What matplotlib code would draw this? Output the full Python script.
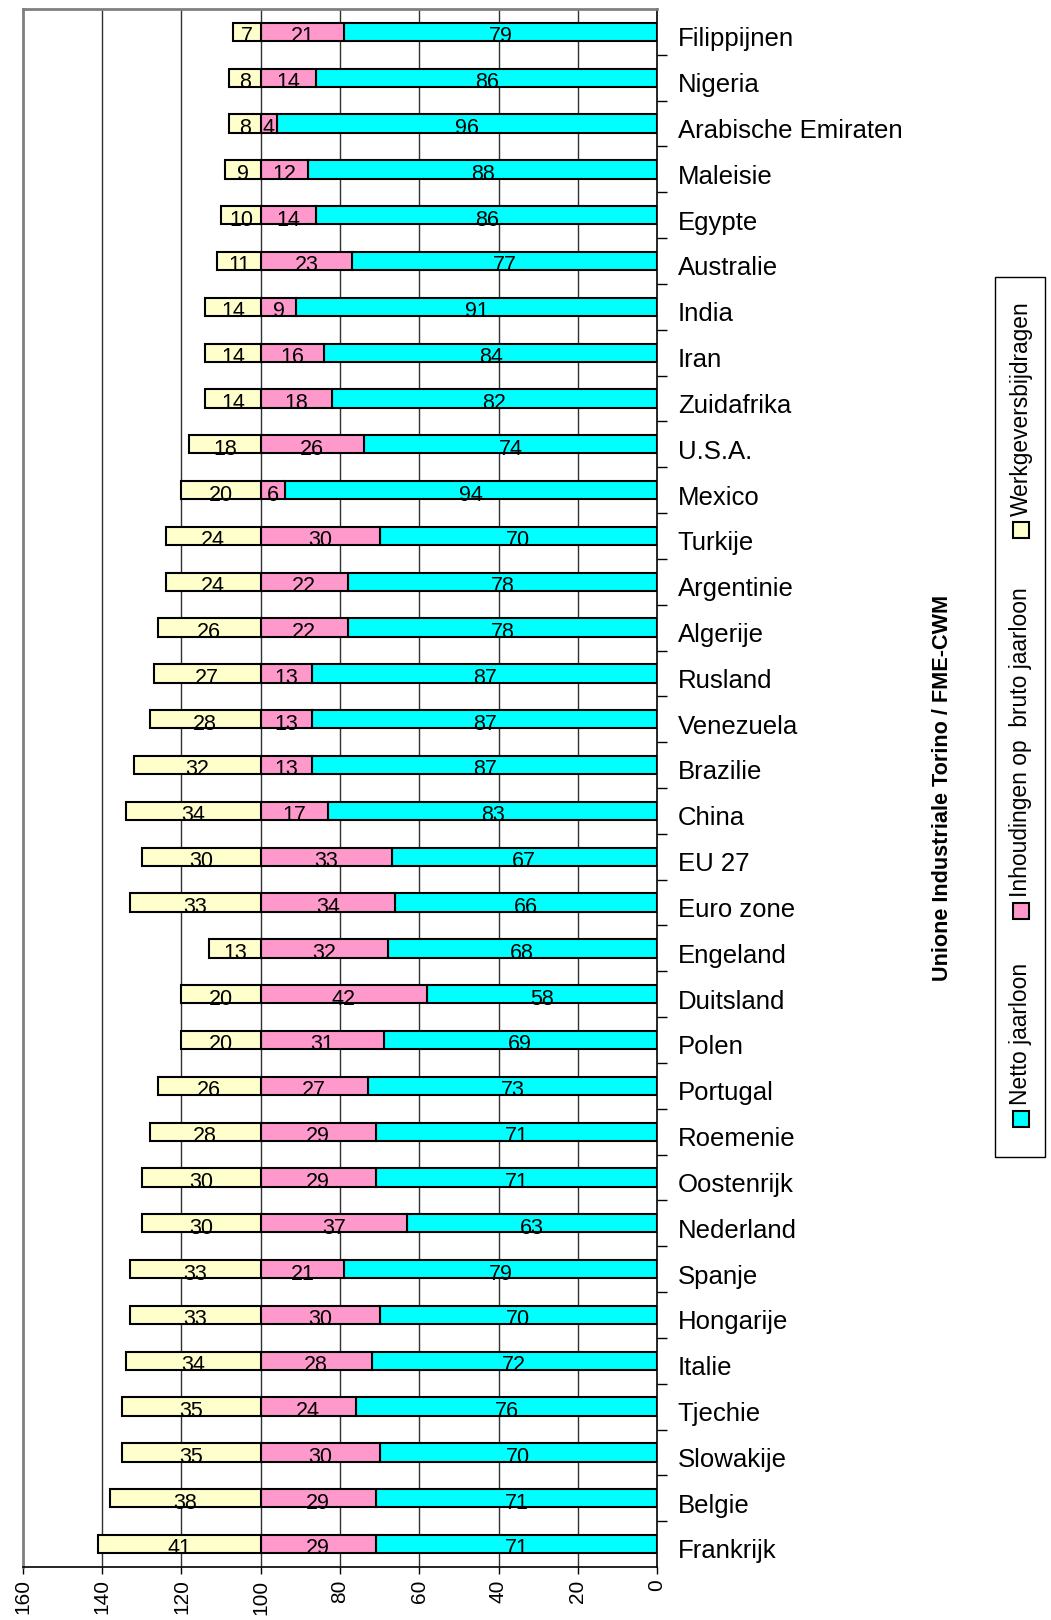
import matplotlib
matplotlib.use("Agg")
from matplotlib import pyplot as plt
from matplotlib import font_manager
from matplotlib.patches import Rectangle
from matplotlib.transforms import ScaledTranslation

countries = ["Filippijnen", "Nigeria", "Arabische Emiraten", "Maleisie", "Egypte",
             "Australie", "India", "Iran", "Zuidafrika", "U.S.A.", "Mexico", "Turkije",
             "Argentinie", "Algerije", "Rusland", "Venezuela", "Brazilie", "China",
             "EU 27", "Euro zone", "Engeland", "Duitsland", "Polen", "Portugal",
             "Roemenie", "Oostenrijk", "Nederland", "Spanje", "Hongarije", "Italie",
             "Tjechie", "Slowakije", "Belgie", "Frankrijk"]
netto = [79, 86, 96, 88, 86, 77, 91, 84, 82, 74, 94, 70, 78, 78, 87, 87, 87, 83,
         67, 66, 68, 58, 69, 73, 71, 71, 63, 79, 70, 72, 76, 70, 71, 71]
inhoudingen = [21, 14, 4, 12, 14, 23, 9, 16, 18, 26, 6, 30, 22, 22, 13, 13, 13, 17,
               33, 34, 32, 42, 31, 27, 29, 29, 37, 21, 30, 28, 24, 30, 29, 29]
werkgever = [7, 8, 8, 9, 10, 11, 14, 14, 14, 18, 20, 24, 24, 26, 27, 28, 32, 34,
             30, 33, 13, 20, 20, 26, 28, 30, 30, 33, 33, 34, 35, 35, 38, 41]
series_names = ["Netto jaarloon", "Inhoudingen op  bruto jaarloon", "Werkgeversbijdragen"]
colors = ["#00FFFF", "#FF99CC", "#FFFFCC"]
x_ticks = [0, 20, 40, 60, 80, 100, 120, 140, 160]
title = "Unione Industriale Torino / FME-CWM"

W, H = 1051, 1620
names = {f.name for f in font_manager.fontManager.ttflist}
if "Liberation Sans Narrow" in names:
    narrow, k = "Liberation Sans Narrow", 1.0
else:
    narrow, k = "Liberation Sans", 0.82
plt.rcParams["font.family"] = ["Liberation Sans", "DejaVu Sans"]

fig = plt.figure(figsize=(W / 100, H / 100), dpi=100)
ax = fig.add_axes([23 / W, 53 / H, 634 / W, 1558 / H])

ypos = list(range(len(countries)))
left_pink = netto
left_yellow = [a + b for a, b in zip(netto, inhoudingen)]
lefts = [[0] * len(netto), left_pink, left_yellow]
for vals, lft, col in zip([netto, inhoudingen, werkgever], lefts, colors):
    ax.barh(ypos, vals, left=lft, height=0.4, color=col, edgecolor="black",
            linewidth=1.5, zorder=3)
    for y, v, l in zip(ypos, vals, lft):
        ax.annotate(str(v), (l + v / 2, y), xytext=(0, -3.5), textcoords="offset points",
                    ha="center", va="center", fontsize=15.5, zorder=4)

ax.set_xlim(160, 0)
ax.set_ylim(len(countries) - 0.5, -0.5)
ax.set_xticks(x_ticks)
ax.set_xticklabels([str(t) for t in x_ticks], rotation=90, fontsize=15)
ax.tick_params(axis="x", direction="out", length=5, width=1, pad=4)
for t in x_ticks[1:-1]:
    ax.axvline(t, color="#303030", linewidth=1.0, zorder=1)

ax.yaxis.tick_right()
ax.set_yticks([i + 0.5 for i in ypos[:-1]])
ax.set_yticklabels([])
ax.set_yticks(ypos, minor=True)
ax.set_yticklabels(countries, minor=True, fontsize=18.5)
ax.tick_params(axis="y", which="major", direction="out", length=7, width=1)
ax.tick_params(axis="y", which="minor", length=0, pad=15)
shift = ScaledTranslation(0, -3.5 / 72, fig.dpi_scale_trans)
for lab in ax.get_yticklabels(minor=True):
    lab.set_transform(lab.get_transform() + shift)

for s in ["top", "left"]:
    ax.spines[s].set_color("#808080")
    ax.spines[s].set_linewidth(2)
for s in ["right", "bottom"]:
    ax.spines[s].set_color("black")
    ax.spines[s].set_linewidth(1.2)

# title and legend, rotated like the original
fig.text(942 / W, 1 - 788 / H, title, rotation=90, ha="center", va="center",
         family=narrow, fontsize=19 * k, fontweight="bold")
fig.add_artist(Rectangle((995 / W, 1 - 1157 / H), 50 / W, 880 / H, transform=fig.transFigure,
                         facecolor="white", edgecolor="black", linewidth=1))
sq = 16
for name, col, cy in zip(series_names, colors, [1119, 911, 530]):
    fig.add_artist(Rectangle(((1021 - sq / 2) / W, 1 - (cy + sq / 2) / H), sq / W, sq / H,
                             transform=fig.transFigure, facecolor=col,
                             edgecolor="black", linewidth=1.5))
    fig.text(1021 / W, 1 - (cy - sq / 2 - 6) / H, name, rotation=90, ha="center",
             va="bottom", family=narrow, fontsize=20 * k)

fig.savefig("out.png", dpi=100)
